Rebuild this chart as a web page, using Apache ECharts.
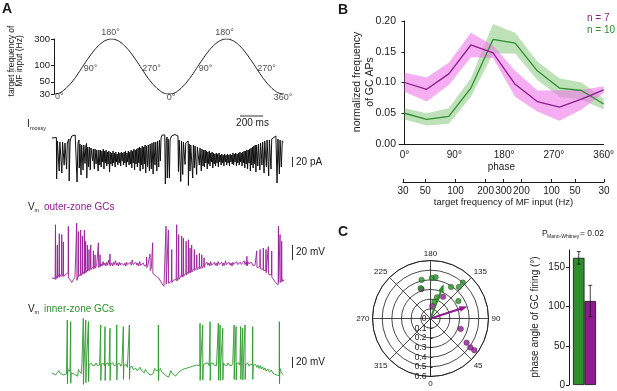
<!DOCTYPE html>
<html>
<head>
<meta charset="utf-8">
<script src="https://cdn.jsdelivr.net/npm/echarts@6/dist/echarts.min.js"></script>
<style>
  html, body { margin: 0; padding: 0; background: #fff; }
  #main { width: 617px; height: 391px; }
</style>
</head>
<body>
<div id="main"></div>
<script>
// ---------- panel A: target frequency sine ----------
const sinePhase = [0,15,30,45,60,75,90,105,120,135,150,165,180,195,210,225,240,255,270,285,300,315,330,345,360,
  375,390,405,420,435,450,465,480,495,510,525,540,555,570,585,600,615,630,645,660,675,690,705,720];
const sineFreq = [30,31,35,42,53,70,95,128,169,214,257,288,300,288,257,214,169,128,95,70,53,42,35,31,30,
  31,35,42,53,70,95,128,169,214,257,288,300,288,257,214,169,128,95,70,53,42,35,31,30];
const sineTicks = [30,50,100,200,300];
const phaseMarks = [0,90,180,270,360,450,540,630,720];
const phaseMarkFreq = [30,95,300,95,30,95,300,95,30];
const phaseMarkLabels = ['0°','90°','180°','270°','0°','90°','180°','270°','360°'];

// ---------- panel A: traces (time ms, value) ----------
const mossyTrace = [
[0,-4],[38,-3],[40,-86],[46,-10],[60,-6],[62,-70],[68,-12],[83,-8],[85,-74],[91,-12],[103,-9],[105,-58],[112,-14],[124,-10],[126,-66],[132,-14],[146,-6],[148,-90],[156,-10],[170,0],[200,2],[214,-2],[216,-92],[224,-14],[233,-8],[235,-64],[241,-16],[248,-12],[250,-78],[256,-18],[266,-14],[268,-68],[274,-18],[283,-16],[285,-55],[291,-20],[298,-15],[300,-84],[306,-22],[313,-18],[315,-62],[321,-22],[328,-20],[330,-68],[336,-24],[348,-22],[350,-50],[356,-26],[363,-22],[365,-66],[371,-26],[378,-24],[380,-56],[386,-28],[396,-24],[398,-70],[404,-28],
[412,-58],[418,-28],[424,-62],[430,-30],[436,-52],[442,-26],[448,-66],[454,-30],[460,-54],[466,-28],[472,-60],[478,-32],[484,-56],[490,-30],[496,-72],[502,-32],[508,-56],[514,-34],[520,-60],[526,-30],[532,-54],[538,-34],[544,-62],[550,-32],[556,-52],[562,-36],[568,-58],[574,-32],[580,-54],[586,-34],[592,-60],[598,-32],[604,-50],[610,-34],[616,-58],[622,-32],[628,-54],[634,-30],[640,-62],[646,-34],[652,-52],[658,-30],[664,-58],[670,-32],[676,-56],[682,-28],[688,-64],[694,-30],[700,-54],[706,-26],[712,-68],[718,-28],[724,-56],[730,-26],[736,-62],[742,-24],[748,-54],[754,-22],[760,-70],[766,-24],[772,-58],[778,-20],[784,-66],[790,-22],[796,-56],[802,-18],[808,-74],[814,-20],[822,-16],[824,-62],[830,-18],[838,-14],[840,-70],[846,-16],
[854,-12],[856,-66],[862,-14],[870,-10],[872,-76],[878,-12],[886,-10],[888,-58],[894,-12],[902,-8],[904,-70],[910,-10],[918,-6],[920,-62],[926,-8],[932,-4],[934,-50],[940,-4],[950,2],[972,2],[975,-2],[977,-96],[985,-8],[992,-2],[994,-84],[1002,-6],
[1008,-4],[1012,-84],[1018,-8],[1030,0],[1060,3],[1086,0],[1090,-71],[1096,-8],[1108,-4],[1110,-91],[1116,-10],[1125,-8],[1127,-77],[1133,-12],[1145,-10],[1147,-57],[1153,-14],[1174,-10],[1176,-99],[1182,-16],[1188,-14],[1190,-70],[1196,-18],[1211,-14],[1213,-84],[1219,-18],[1225,-16],[1227,-64],[1233,-20],[1245,-18],[1247,-77],[1253,-22],[1268,-20],[1270,-58],[1276,-24],[1285,-22],[1287,-70],[1293,-26],[1300,-24],[1302,-60],[1308,-28],
[1314,-62],[1320,-28],[1326,-54],[1332,-30],[1338,-66],[1344,-32],[1350,-56],[1356,-30],[1362,-60],[1368,-34],[1374,-52],[1380,-32],[1386,-64],[1392,-34],[1398,-56],[1404,-36],[1410,-60],[1416,-34],[1422,-54],[1428,-36],[1434,-62],[1440,-34],[1446,-52],[1452,-38],[1458,-58],[1464,-36],[1470,-54],[1476,-38],[1482,-60],[1488,-36],[1494,-52],[1500,-38],[1506,-58],[1512,-36],[1518,-54],[1524,-38],[1530,-60],[1536,-36],[1542,-52],[1548,-38],[1554,-56],[1560,-34],[1566,-58],[1572,-36],[1578,-52],[1584,-34],[1590,-60],[1596,-36],[1602,-54],[1608,-34],[1614,-58],[1620,-32],[1626,-52],[1632,-34],[1638,-60],[1644,-32],[1650,-54],[1656,-30],[1662,-64],[1668,-30],[1674,-56],[1680,-28],[1686,-66],[1692,-28],[1698,-54],[1704,-26],[1710,-70],[1716,-24],[1722,-58],[1728,-22],[1734,-64],[1740,-20],[1746,-56],[1752,-18],[1758,-72],[1764,-18],
[1772,-16],[1774,-60],[1780,-16],[1790,-14],[1792,-68],[1798,-14],[1808,-12],[1810,-58],[1816,-12],[1826,-10],[1828,-74],[1834,-10],[1846,-8],[1848,-62],[1854,-8],[1866,-6],[1868,-80],[1874,-8],[1886,-4],[1888,-66],[1894,-6],[1910,-2],[1930,0],[1938,-2],[1940,-94],[1948,-6],[1958,-4],[1960,-76],[1966,-8],[1975,-4],[1977,-62],[1985,-10],[1995,-12]
];

const outerTrace = [
[0,0],[10,1],[20,-1],[27,2],[29,2],[30,71],[32,-2],[44,4],[46,44],[48,0],[60,5],[63,59],[65,1],[82,6],[84,58],[86,2],[96,6],[98,48],[100,2],[120,5],[139,7],[141,69],[143,0],[160,-3],[170,-6],[185,-2],[198,1],[211,2],[213,73],[215,-3],[225,3],[227,62],[229,2],[245,5],[247,64],[249,3],[260,7],[262,56],[264,5],[277,9],[279,64],[281,6],[288,10],[290,49],[292,7],[303,11],[305,44],[307,9],[317,13],[319,38],[321,10],[332,14],[334,44],[336,11],[355,15],[357,36],[359,12],[369,16],[371,31],[373,13],[385,17],[398,16],[400,47],[402,14],[412,17],[414,31],[416,15],
[424,19],[432,16],[440,22],[448,17],[456,20],[464,16],[472,21],[480,17],[488,24],[496,18],[499,19],[500,32],[502,16],[508,17],[516,20],[524,16],[532,21],[540,18],[548,23],[556,17],[564,20],[572,16],[580,21],[588,17],[596,20],[604,18],[612,22],[620,17],[628,20],[636,16],[644,21],[652,18],[660,19],[668,16],[676,21],[684,17],[692,24],[700,18],[708,20],[716,16],[724,21],[732,17],[740,20],[748,16],[756,22],[764,17],[772,19],[780,15],[788,20],[796,16],[804,18],[812,16],[814,17],[816,28],[818,14],[826,17],[836,15],[843,15],[845,32],[847,10],[856,13],[866,12],[868,47],[870,6],
[880,4],[900,2],[920,0],[935,-4],[950,-8],[965,-11],[975,-12],[981,-10],[983,69],[985,-8],[1001,-6],[1003,64],[1005,-7],[1030,-4],[1032,38],[1034,-6],[1045,-3],[1060,-5],[1070,-2],[1073,0],[1075,71],[1077,-4],[1090,2],[1092,58],[1094,-2],[1116,4],[1118,56],[1120,1],[1131,5],[1133,53],[1135,2],[1154,7],[1156,49],[1158,4],[1174,9],[1176,51],[1178,6],[1188,10],[1190,40],[1192,7],[1202,11],[1204,44],[1206,8],[1225,13],[1227,38],[1229,10],[1246,14],[1248,31],[1250,11],[1269,15],[1271,33],[1273,12],[1289,16],[1291,31],[1293,13],[1309,17],[1311,27],[1313,14],
[1320,18],[1328,16],[1336,21],[1344,17],[1352,20],[1360,16],[1368,22],[1376,17],[1384,19],[1392,16],[1400,21],[1408,17],[1416,20],[1424,16],[1432,22],[1440,18],[1448,20],[1456,17],[1464,21],[1472,16],[1480,20],[1488,17],[1496,23],[1504,18],[1512,20],[1520,16],[1528,21],[1536,17],[1544,20],[1552,16],[1560,21],[1568,18],[1576,20],[1584,17],[1592,22],[1600,18],[1608,20],[1616,17],[1624,21],[1632,18],[1640,20],[1648,16],[1656,23],[1664,18],[1672,21],[1678,17],[1680,29],[1682,16],[1688,22],[1696,19],[1704,20],
[1712,18],[1720,21],[1730,17],[1740,19],[1750,17],[1763,17],[1765,36],[1767,14],[1780,16],[1792,15],[1794,38],[1796,12],[1810,14],[1820,12],[1822,40],[1824,10],[1835,11],[1843,10],[1845,38],[1847,7],[1855,9],[1863,8],[1865,42],[1867,5],[1880,6],[1892,4],[1894,36],[1896,1],[1905,0],[1915,-3],[1925,-6],[1935,-8],[1950,-9],[1952,69],[1954,-6],[1964,-4],[1966,58],[1968,-6],[1978,-3],[1980,49],[1982,-5],[1990,-2],[1998,-4]
];

const innerTrace = [
[0,4],[15,2],[30,0],[45,-2],[60,8],[68,4],[80,2],[95,0],[110,-1],[125,2],[131,4],[132,100],[133,-16],[136,6],[145,10],[155,6],[160,6],[161,97],[162,-15],[165,4],[180,2],[195,1],[210,-1],[222,-2],[228,10],[236,6],[245,4],[255,3],[269,6],[270,103],[271,-17],[275,12],[283,14],[290,15],[291,100],[292,-14],[296,16],[305,18],[313,17],[314,97],[315,-12],[320,19],[330,18],[340,21],[350,17],[360,20],[370,18],[380,22],[390,17],[400,20],[410,18],
[419,19],[420,91],[421,-10],[425,20],[435,18],[445,21],[452,17],[456,19],[457,88],[458,-10],[462,20],[472,18],[482,22],[492,17],[499,19],[500,85],[501,-10],[505,21],[515,18],[525,22],[535,17],[545,20],[552,18],[557,19],[558,91],[559,-9],[563,20],[573,17],[583,21],[593,16],[603,20],[610,18],[614,19],[615,88],[616,-8],[620,18],[630,15],[640,19],[650,14],[660,17],[666,16],[667,91],[668,-8],[672,14],[682,12],[690,16],[700,10],[712,8],[722,12],[735,8],[748,6],[758,14],[768,9],[780,6],[795,4],[805,10],[815,6],[830,3],[845,0],[860,-2],[870,2],[885,12],[895,8],[905,10],
[916,9],[917,91],[918,-10],[922,8],[935,12],[945,6],[960,4],[975,0],[990,-3],[1005,-4],[1015,-2],[1025,8],[1035,3],[1050,0],[1065,-2],[1080,2],[1095,6],[1110,4],[1125,10],[1140,8],[1155,12],[1170,10],[1185,14],[1200,12],[1215,16],[1230,14],[1245,18],[1260,16],
[1275,17],[1276,94],[1277,-10],[1281,18],[1290,16],[1298,18],[1299,91],[1300,-9],[1305,19],[1315,17],[1325,21],[1335,18],[1345,22],[1355,17],[1362,19],[1363,97],[1364,-10],[1368,20],[1378,17],[1388,22],[1398,18],[1408,21],[1418,17],[1428,20],[1433,19],[1434,94],[1435,-9],[1440,18],[1448,19],[1449,91],[1450,-10],[1455,20],[1462,18],[1471,19],[1472,85],[1473,-9],[1478,22],[1488,18],[1498,21],[1508,17],[1518,22],[1528,18],[1538,20],[1548,17],[1558,21],
[1569,19],[1570,91],[1571,-8],[1575,20],[1586,19],[1587,88],[1588,-9],[1592,21],[1602,18],[1612,22],[1620,18],[1626,19],[1627,88],[1628,-8],[1632,20],[1638,18],[1643,19],[1644,85],[1645,-9],[1650,20],[1657,17],[1663,19],[1664,91],[1665,-8],[1670,20],[1680,17],[1690,21],[1700,16],[1710,20],[1720,17],[1729,18],[1730,88],[1731,-8],[1735,18],[1745,15],[1755,19],[1765,14],[1775,18],[1785,12],[1795,17],[1805,11],[1815,15],[1825,9],[1835,13],[1845,7],[1860,11],[1875,5],[1890,9],[1905,3],[1920,2],[1935,0],[1948,-2],[1959,-1],[1960,97],[1961,-16],[1965,12],[1975,6],[1985,2],[1995,0]
];

// ---------- panel B ----------
const phaseB = [0,40,80,120,160,200,240,280,320,360];
const outerMean  = [0.100,0.089,0.114,0.161,0.148,0.097,0.069,0.060,0.073,0.088];
const outerUpper = [0.116,0.108,0.132,0.181,0.160,0.119,0.087,0.087,0.088,0.094];
const outerLower = [0.085,0.069,0.096,0.141,0.140,0.077,0.053,0.038,0.056,0.083];
const innerMean  = [0.050,0.040,0.045,0.091,0.170,0.164,0.119,0.091,0.087,0.065];
const innerUpper = [0.058,0.050,0.058,0.107,0.195,0.181,0.134,0.107,0.100,0.074];
const innerLower = [0.040,0.030,0.033,0.077,0.147,0.147,0.104,0.077,0.072,0.056];
const phaseTicks = [0,90,180,270,360];
const freqTickPhase = [0,40,94,148,180,212,266,308,360];
const freqTickLabels = ['30','50','100','200','300','200','100','50','30'];

// ---------- panel C ----------
// [radius, angle]
const innerCells = [[0.41,193],[0.33,198],[0.42,178],[0.43,173],[0.39,147],[0.44,138],[0.50,138],[0.34,122],[0.18,167],[0.23,163]];
const outerCells = [[0.32,197],[0.26,150],[0.13,172],[0.33,71],[0.45,56],[0.51,54],[0.56,54]];
const innerVector = [0.34,159];
const outerVector = [0.36,108];
const groups = ['inner','outer'];
const phaseAngleMean = [162,107];
const phaseAngleErr = [8,20];

const GREEN = '#2c8f2c', PURPLE = '#8e1c8e';
const FONT = '"Liberation Sans", Arial, Helvetica, sans-serif';
const INK = '#1a1a1a';

const zip = (a, b) => a.map((v, i) => [v, b[i]]);

const chart = echarts.init(document.getElementById('main'));

const labelStyle = [
  {align:'left', offset:[1,3]}, {align:'left', offset:[1,2]}, {align:'center', offset:[-1,-6]},
  {align:'left', offset:[2,2]}, {align:'center', offset:[2,4]}, {align:'left', offset:[1,2]},
  {align:'center', offset:[-2,-6]}, {align:'left', offset:[2,2]}, {align:'center', offset:[-1,4]}
];

const txt = (x, y, text, opt) => Object.assign({
  type: 'text', x: x, y: y, silent: true,
  style: Object.assign({text: text, fill: INK, font: '10px ' + FONT, textAlign: 'left', textVerticalAlign: 'middle'}, opt || {})
});
const seg = (x1, y1, x2, y2) => ({type:'line', silent:true, shape:{x1, y1, x2, y2}, style:{stroke:'#333', lineWidth:1}});

const hiddenX = (gi, min, max) => ({gridIndex: gi, type:'value', min, max, show:false});
const hiddenY = (gi, min, max) => ({gridIndex: gi, type:'value', min, max, show:false});

// shaded band between lower and upper arrays, drawn through the axes of grid 4
const band = (lower, upper, color) => ({
  type:'custom', xAxisIndex:4, yAxisIndex:4, silent:true, z:1,
  data: phaseB.map((p, i) => [p, lower[i], upper[i]]),
  renderItem: (params, api) => {
    if (params.dataIndex !== 0) return null;
    const top = phaseB.map((p, i) => api.coord([p, upper[i]]));
    const bottom = phaseB.map((p, i) => api.coord([p, lower[i]])).reverse();
    return {type:'polygon', shape:{points: top.concat(bottom)}, style:{fill: color}};
  }
});

const option = {
  animation: false,
  textStyle: {fontFamily: FONT},
  grid: [
    {left: 54, top: 39, width: 230, height: 55},
    {left: 52, top: 133.5, width: 232, height: 52.5},
    {left: 52, top: 221.75, width: 232, height: 67.5},
    {left: 52, top: 317.25, width: 232, height: 71.5},
    {left: 399, top: 21, right: 9, height: 123},
    {left: 403, top: 181, width: 201, height: 1},
    {left: 573, top: 250, width: 23, height: 135}
  ],
  xAxis: [
    hiddenX(0, 0, 720),
    hiddenX(1, 0, 2000),
    hiddenX(2, 0, 2000),
    hiddenX(3, 0, 2000),
    {gridIndex: 4, type:'value', min: -10, max: 360,
      axisLine:{lineStyle:{color:INK, width:1}}, axisTick:{show:false}, splitLine:{show:false},
      axisLabel:{customValues: phaseTicks, formatter: v => v + '°', color:INK, fontSize:10, margin:6},
      name:'phase', nameLocation:'middle', nameGap:18, nameTextStyle:{color:INK, fontSize:10}},
    {gridIndex: 5, type:'value', min: 0, max: 360, position:'bottom',
      axisLine:{lineStyle:{color:INK, width:1}}, splitLine:{show:false},
      axisTick:{customValues: freqTickPhase, inside:true, length:3, lineStyle:{color:INK}},
      axisLabel:{customValues: freqTickPhase, formatter: v => freqTickLabels[freqTickPhase.indexOf(v)], color:INK, fontSize:10, margin:4},
      name:'target frequency of MF input (Hz)', nameLocation:'middle', nameGap:15, nameTextStyle:{color:INK, fontSize:9.5}},
    {gridIndex: 6, type:'category', data: groups, show:false}
  ],
  yAxis: [
    {gridIndex: 0, type:'log', logBase: 10, min: 30, max: 300,
      axisLine:{show:true, lineStyle:{color:INK, width:1}}, splitLine:{show:false},
      axisTick:{show:true, customValues: sineTicks, length:3, lineStyle:{color:INK}},
      axisLabel:{customValues: sineTicks, color:INK, fontSize:9.5, margin:4, showMaxLabel:true, hideOverlap:false}},
    hiddenY(1, -100, 5),
    hiddenY(2, -15, 75),
    hiddenY(3, -25, 105),
    {gridIndex: 4, type:'value', min: 0, max: 0.2, interval: 0.05,
      axisLine:{show:true, lineStyle:{color:INK, width:1}}, splitLine:{show:false},
      axisTick:{show:true, length:3, lineStyle:{color:INK}},
      axisLabel:{formatter: v => v.toFixed(2), color:INK, fontSize:10.5, margin:3}},
    hiddenY(5, 0, 1),
    {gridIndex: 6, type:'value', min: 0, max: 172, offset: 4,
      axisLine:{show:true, lineStyle:{color:INK, width:1}}, splitLine:{show:false},
      axisTick:{show:true, customValues:[0,50,100,150], length:3, lineStyle:{color:INK}},
      axisLabel:{customValues:[0,50,100,150], color:INK, fontSize:10, margin:4}}
  ],
  polar: {center: [430.5, 318.5], radius: 58},
  angleAxis: {type:'value', min:0, max:360, interval:45, startAngle:270, clockwise:false,
    axisLine:{lineStyle:{color:INK, width:0.8}}, axisTick:{show:false},
    axisLabel:{fontSize:8, color:INK, margin:3, formatter: v => v === 360 ? '' : String(v)},
    splitLine:{show:true, lineStyle:{color:INK, width:0.8}}},
  radiusAxis: {type:'value', min:0, max:0.6, interval:0.1,
    axisLine:{show:true, lineStyle:{color:INK, width:0.8}},
    axisTick:{show:true, inside:true, length:2, lineStyle:{color:INK}},
    axisLabel:{fontSize:8.5, color:INK, margin:-4, align:'right', formatter: v => v === 0 ? '0' : v.toFixed(1)},
    splitLine:{show:true, lineStyle:{color:INK, width:0.8}}},
  legend: {
    orient:'vertical', left: 582, top: 13, padding: 0, itemWidth: 0, itemHeight: 10, itemGap: 2,
    icon:'rect', selectedMode:false,
    data:[{name:'n = 7', textStyle:{color:PURPLE}}, {name:'n = 10', textStyle:{color:GREEN}}],
    textStyle:{fontSize:10, fontFamily:FONT}
  },
  series: [
    {type:'line', xAxisIndex:0, yAxisIndex:0, data: zip(sinePhase, sineFreq), smooth:true,
      symbol:'none', lineStyle:{color:INK, width:1}, silent:true},
    {type:'scatter', xAxisIndex:0, yAxisIndex:0, symbolSize:1, itemStyle:{color:'rgba(0,0,0,0)'}, silent:true,
      data: phaseMarks.map((p, i) => ({value:[p, phaseMarkFreq[i]],
        label:{show:true, position:'inside', formatter: phaseMarkLabels[i], color:INK, fontSize:9,
          verticalAlign:'middle', align: labelStyle[i].align, offset: labelStyle[i].offset}}))},
    {type:'line', xAxisIndex:1, yAxisIndex:1, data: mossyTrace, symbol:'none', silent:true,
      lineStyle:{color:'#111', width:1}},
    {type:'line', xAxisIndex:2, yAxisIndex:2, data: outerTrace, symbol:'none', silent:true,
      lineStyle:{color:'#9a1e9a', width:0.9}},
    {type:'line', xAxisIndex:3, yAxisIndex:3, data: innerTrace, symbol:'none', silent:true,
      lineStyle:{color:'#2a9a2a', width:0.9}},
    band(innerLower, innerUpper, 'rgba(125,195,115,0.5)'),
    band(outerLower, outerUpper, 'rgba(238,120,234,0.6)'),
    {name:'n = 10', type:'line', xAxisIndex:4, yAxisIndex:4, data: zip(phaseB, innerMean),
      symbol:'none', itemStyle:{color:GREEN}, lineStyle:{color:GREEN, width:1.3}, z:5},
    {name:'n = 7', type:'line', xAxisIndex:4, yAxisIndex:4, data: zip(phaseB, outerMean),
      symbol:'none', itemStyle:{color:PURPLE}, lineStyle:{color:PURPLE, width:1.3}, z:5},
    {type:'bar', xAxisIndex:6, yAxisIndex:6, barWidth:'100%', silent:true,
      data: phaseAngleMean.map((v, i) => ({value:v, itemStyle:{color: i === 0 ? GREEN : PURPLE}})),
      itemStyle:{borderColor:'#111', borderWidth:0.8}},
    {type:'custom', xAxisIndex:6, yAxisIndex:6, silent:true, z:10,
      data: phaseAngleMean.map((v, i) => [i, v - phaseAngleErr[i], v + phaseAngleErr[i]]),
      renderItem: (params, api) => {
        const lo = api.coord([api.value(0), api.value(1)]);
        const hi = api.coord([api.value(0), api.value(2)]);
        const st = {stroke:'#111', lineWidth:0.8};
        return {type:'group', children:[
          {type:'line', shape:{x1:lo[0], y1:lo[1], x2:hi[0], y2:hi[1]}, style:st},
          {type:'line', shape:{x1:lo[0]-2, y1:lo[1], x2:lo[0]+2, y2:lo[1]}, style:st},
          {type:'line', shape:{x1:hi[0]-2, y1:hi[1], x2:hi[0]+2, y2:hi[1]}, style:st}
        ]};
      }},
    {type:'scatter', coordinateSystem:'polar', data: outerCells, symbolSize:5.5, silent:true, z:4,
      itemStyle:{color:PURPLE, borderColor:'#3a0a3a', borderWidth:0.5}},
    {type:'scatter', coordinateSystem:'polar', data: innerCells, symbolSize:5.5, silent:true, z:4,
      itemStyle:{color:GREEN, borderColor:'#0f3f0f', borderWidth:0.5}},
    {type:'line', coordinateSystem:'polar', silent:true, z:6, showSymbol:true, symbol:'none',
      lineStyle:{color:GREEN, width:2}, itemStyle:{color:GREEN},
      data:[[0, innerVector[1]], {value: innerVector, symbol:'triangle', symbolSize:[6,8], symbolRotate: 180 + innerVector[1]}]},
    {type:'line', coordinateSystem:'polar', silent:true, z:6, showSymbol:true, symbol:'none',
      lineStyle:{color:PURPLE, width:2}, itemStyle:{color:PURPLE},
      data:[[0, outerVector[1]], {value: outerVector, symbol:'triangle', symbolSize:[6,8], symbolRotate: 180 + outerVector[1]}]}
  ],
  graphic: [
    txt(2, 9, 'A', {font:'bold 14px ' + FONT}),
    txt(338, 10, 'B', {font:'bold 14px ' + FONT}),
    txt(338, 232, 'C', {font:'bold 14px ' + FONT}),
    Object.assign(txt(15.5, 61, 'target frequency of\nMF input (Hz)', {textAlign:'center', font:'8.5px ' + FONT, lineHeight:8}), {rotation: Math.PI / 2}),
    Object.assign(txt(363.5, 82, 'normalized frequency\nof GC APs', {textAlign:'center', font:'10.5px ' + FONT, lineHeight:13}), {rotation: Math.PI / 2}),
    Object.assign(txt(535.5, 317, 'phase angle of GC firing (°)', {textAlign:'center', font:'10px ' + FONT}), {rotation: Math.PI / 2}),
    txt(27, 124, 'I'),
    txt(30, 128, 'mossy', {font:'5.5px ' + FONT}),
    txt(28, 207, 'V'),
    txt(34.5, 210, 'm', {font:'5.5px ' + FONT}),
    txt(44, 207, 'outer-zone GCs', {fill:PURPLE}),
    txt(28, 309, 'V'),
    txt(34.5, 312, 'm', {font:'5.5px ' + FONT}),
    txt(44, 309, 'inner-zone GCs', {fill:GREEN}),
    seg(240, 116, 263, 116),
    txt(252.5, 123.5, '200 ms', {textAlign:'center'}),
    seg(292.5, 157, 292.5, 167),
    txt(296, 162, '20 pA'),
    seg(292.5, 245, 292.5, 260),
    txt(296, 252.5, '20 mV'),
    seg(292.5, 357, 292.5, 368),
    txt(296, 362.5, '20 mV'),
    txt(542, 234, 'P', {font:'8.5px ' + FONT}),
    txt(547, 236.5, 'Mann-Whitney', {font:'5px ' + FONT}),
    txt(580, 234, '= 0.02', {font:'8.5px ' + FONT})
  ]
};

chart.setOption(option);
</script>
</body>
</html>
